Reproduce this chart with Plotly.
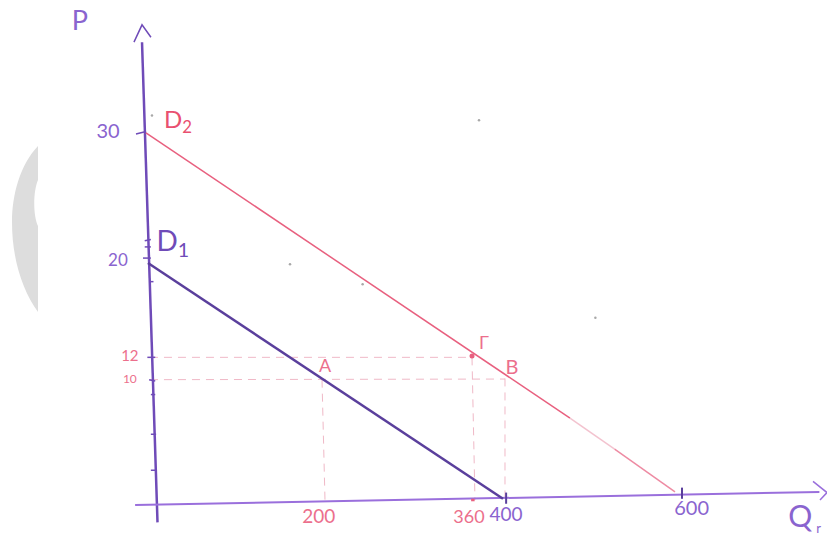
import plotly.graph_objects as go

PURPLE = "#6f4bb8"
DARK_PURPLE = "#5a3f9c"
LABEL_PURPLE = "#8a64cf"
PINK = "#e8607f"
PALE_PINK = "#f3c3cf"
DASH_PINK = "#f0b9c7"

# axes, hand drawn so they lean a little
p_axis_q = [-17.1, 0.6]
p_axis_p = [37.3, -1.4]
p_arrow_q = [-26.3, -17.1, -6.9]
p_arrow_p = [37.3, 38.7, 37.7]
q_axis_q = [-25, 757]
q_axis_p = [0, 1.05]
q_arrow_q = [749.7, 765.7, 757.7]
q_arrow_p = [1.9, 1.0, 0.4]

# demand curves
d1_q = [-10.3, 395.4]
d1_p = [19.5, 0.5]
d2_q = [-12.6, 472]
d2_p = [30, 7.0]
d2_faded_q = [472, 523]
d2_faded_p = [7.0, 4.5]
d2_end_q = [523, 592]
d2_end_p = [4.5, 1.05]

# dashed guides
guides = [
    ([-8, 357.7], [11.9, 11.9]),
    ([-8, 397.7], [10.1, 10.15]),
    ([188.6, 192], [10.1, 0.4]),
    ([360, 363.4], [11.9, 0.4]),
    ([397.7, 397.7], [10.2, 0.5]),
]

# little pencil ticks
p_ticks = [
    ([-24.0, -12.5], [29.9, 30.1]),
    ([-14, -7], [21.3, 21.4]),
    ([-14, -7], [20.8, 20.8]),
    ([-16, -7], [19.9, 19.9]),
    ([-9, -4], [18.0, 18.0]),
    ([-11, -2], [11.9, 11.9]),
    ([-9, -2], [10.1, 10.0]),
    ([-7, -2], [8.9, 8.9]),
    ([-7, -1], [5.7, 5.7]),
    ([-7, -1], [2.8, 2.8]),
]
q_ticks = [
    ([399, 399], [1.0, 0.1]),
    ([600, 600], [1.4, 0.5]),
]
red_tick_q = [359, 363]
red_tick_p = [0.4, 0.4]

gamma_q = [360]
gamma_p = [12.0]

speck_q = [-5.7, 152, 235, 368, 501]
speck_p = [31.4, 19.4, 17.8, 31.0, 15.1]

purple_labels = ["P", "30", "20", "400", "600", "Q", "r"]
purple_q = [-88, -56, -44.6, 398.9, 611, 735, 756]
purple_p = [38.8, 30, 19.6, -0.9, -0.4, -1.2, -2.0]
purple_sizes = [27, 20, 17, 19, 20, 30, 13]

pink_labels = ["12", "10", "A", "Γ", "B", "200", "360"]
pink_q = [-31, -31, 192, 373.7, 405.7, 185, 356.6]
pink_p = [11.9, 10.1, 11.1, 12.9, 11, -1.1, -1.05]
pink_sizes = [15, 12, 18, 18, 20, 19, 18]

fig = go.Figure()


def add_line(q, p, color, width, dash="solid"):
    fig.add_trace(
        go.Scatter(
            x=q, y=p, mode="lines", line=dict(color=color, width=width, dash=dash)
        )
    )


for q, p in guides:
    add_line(q, p, DASH_PINK, 1, dash="8px,6px")
add_line(p_axis_q, p_axis_p, PURPLE, 2.5)
add_line(p_arrow_q, p_arrow_p, PURPLE, 1.5)
add_line(q_axis_q, q_axis_p, "#9a6fdc", 2)
add_line(q_arrow_q, q_arrow_p, "#9a6fdc", 1.5)
add_line(d1_q, d1_p, DARK_PURPLE, 2.5)
add_line(d2_q, d2_p, PINK, 1.5)
add_line(d2_faded_q, d2_faded_p, PALE_PINK, 1.5)
add_line(d2_end_q, d2_end_p, "#ee8ba3", 1.5)
for q, p in p_ticks:
    add_line(q, p, PURPLE, 1.5)
for q, p in q_ticks:
    add_line(q, p, DARK_PURPLE, 2)
add_line(red_tick_q, red_tick_p, PINK, 2.5)

fig.add_trace(
    go.Scatter(
        x=gamma_q, y=gamma_p, mode="markers", marker=dict(color=PINK, size=5)
    )
)
fig.add_trace(
    go.Scatter(
        x=speck_q, y=speck_p, mode="markers", marker=dict(color="#a8a8a8", size=2.5)
    )
)
fig.add_trace(
    go.Scatter(
        x=purple_q,
        y=purple_p,
        mode="text",
        text=purple_labels,
        textfont=dict(color=LABEL_PURPLE, size=purple_sizes, family="Lato"),
    )
)
fig.add_trace(
    go.Scatter(
        x=pink_q,
        y=pink_p,
        mode="text",
        text=pink_labels,
        textfont=dict(color="#ec6f8c", size=pink_sizes, family="Lato"),
    )
)
fig.add_trace(
    go.Scatter(
        x=[18],
        y=[21],
        mode="text",
        text=["D<sub>1</sub>"],
        textfont=dict(color=PURPLE, size=28, family="Lato"),
    )
)
fig.add_trace(
    go.Scatter(
        x=[24],
        y=[30.9],
        mode="text",
        text=["D<sub>2</sub>"],
        textfont=dict(color="#e9506f", size=24, family="Lato"),
    )
)


# the grey crescent watermark on the left, clipped at its right side
def px(x):
    return x / 827


def py(y):
    return 1 - y / 537


crescent = (
    f"M {px(38)} {py(146)} "
    f"C {px(20)} {py(165)} {px(12)} {py(195)} {px(12)} {py(222)} "
    f"C {px(12)} {py(258)} {px(22)} {py(290)} {px(38)} {py(312)} "
    f"L {px(38)} {py(226)} "
    f"C {px(33)} {py(215)} {px(33)} {py(192)} {px(38)} {py(180)} Z"
)

fig.update_layout(
    width=827,
    height=537,
    margin=dict(l=0, r=0, t=0, b=0),
    paper_bgcolor="white",
    plot_bgcolor="rgba(0,0,0,0)",
    showlegend=False,
    shapes=[
        dict(
            type="path",
            xref="paper",
            yref="paper",
            path=crescent,
            fillcolor="#dddddd",
            line_width=0,
            layer="below",
        )
    ],
)
fig.update_xaxes(visible=False, range=[-179.4, 765.7])
fig.update_yaxes(visible=False, range=[-2.58, 40.7])

fig.write_html(
    "out.html",
    config={"displayModeBar": False},
    post_script="document.body.style.margin='0';",
)
